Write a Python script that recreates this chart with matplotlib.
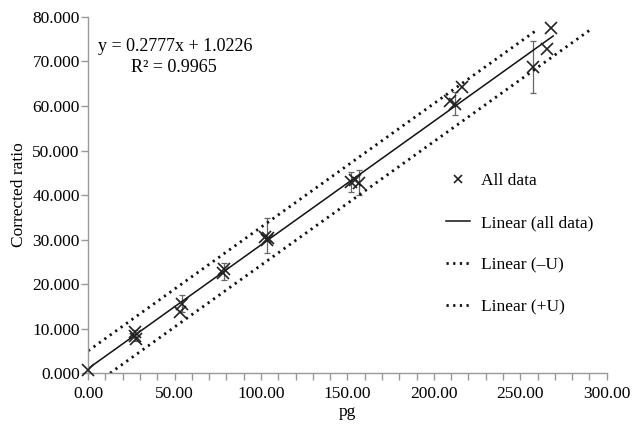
import matplotlib
matplotlib.use("Agg")
import matplotlib.pyplot as plt
from matplotlib.ticker import MultipleLocator, FormatStrFormatter
import numpy as np

# measured points (pg vs corrected ratio)
pg = [0, 27, 27.3, 27.6, 53.3, 54.2, 78.0, 78.5, 102.5, 103.3, 104.0,
      151.8, 154.3, 156.8, 209.2, 212.0, 216.0, 257.4, 265.5, 268.0]
ratio = [0.7, 9.2, 8.4, 7.6, 13.8, 15.6, 22.4, 23.3, 30.6, 29.9, 30.4,
         43.0, 43.4, 42.8, 61.2, 60.4, 64.2, 68.8, 72.8, 77.5]

# points carrying uncertainty bars
err_x = [27.3, 54.2, 78.5, 103.3, 151.8, 156.8, 212.0, 257.4]
err_y = [8.4, 15.6, 22.8, 30.85, 42.95, 42.8, 60.6, 68.8]
err_u = [1.2, 1.9, 1.9, 3.95, 2.25, 2.8, 2.6, 5.9]

slope = 0.2777
icpt = 1.0226
icpt_minus = -3.53
icpt_plus = 5.0
fit_x = [0, 269]
minus_x = [12.7, 290.5]
plus_x = [0, 259.5]

plt.rcParams['font.family'] = ['Liberation Serif', 'DejaVu Serif']
plt.rcParams['font.size'] = 11.5

fig = plt.figure(figsize=(6.34, 4.24), dpi=100)
ax = fig.add_axes([0.139, 0.120, 0.818, 0.840])

ax.errorbar(err_x, err_y, yerr=err_u, fmt='none', ecolor='#666666',
            elinewidth=0.9, capsize=2.5, capthick=0.9, zorder=2)
ax.plot(pg, ratio, 'x', color='#222222', ms=9, mew=1.2, label='All data',
        zorder=3, clip_on=False)

fx = np.array(fit_x)
ax.plot(fx, slope * fx + icpt, '-', color='#111111', lw=1.1, label='Linear (all data)')
mx = np.array(minus_x)
ax.plot(mx, slope * mx + icpt_minus, ':', color='#111111', lw=2.0,
        dashes=(0.8, 1.6), label='Linear (\u2013U)')
px = np.array(plus_x)
ax.plot(px, slope * px + icpt_plus, ':', color='#111111', lw=2.0,
        dashes=(0.8, 1.6), label='Linear (+U)')

ax.set_xlim(0, 300)
ax.set_ylim(0, 80)
ax.xaxis.set_major_locator(MultipleLocator(50))
ax.xaxis.set_minor_locator(MultipleLocator(10))
ax.yaxis.set_major_locator(MultipleLocator(10))
ax.xaxis.set_major_formatter(FormatStrFormatter('%.2f'))
ax.yaxis.set_major_formatter(FormatStrFormatter('%.3f'))
for s in ['top', 'right']:
    ax.spines[s].set_visible(False)
for s in ['left', 'bottom']:
    ax.spines[s].set_color('#999999')
    ax.spines[s].set_linewidth(1.0)
ax.tick_params(which='both', direction='out', color='#999999', length=5,
               width=1.0, labelsize=12.5, pad=1)
ax.tick_params(axis='x', pad=4)

ax.set_xlabel('pg', fontsize=12.5, labelpad=2)
ax.set_ylabel('Corrected ratio', fontsize=12.5, labelpad=4)

ax.text(0.020, 0.917, 'y = 0.2777x + 1.0226', transform=ax.transAxes,
        fontsize=13, ha='left', va='center')
ax.text(0.166, 0.858, 'R\u00b2 = 0.9965', transform=ax.transAxes,
        fontsize=13, ha='center', va='center')

ax.legend(loc='center left', bbox_to_anchor=(0.69, 0.362), frameon=False,
          fontsize=12.5, handlelength=1.4, handletextpad=0.6,
          labelspacing=1.5, borderaxespad=0, borderpad=0, markerscale=0.6)

fig.savefig('out.png', dpi=100)
